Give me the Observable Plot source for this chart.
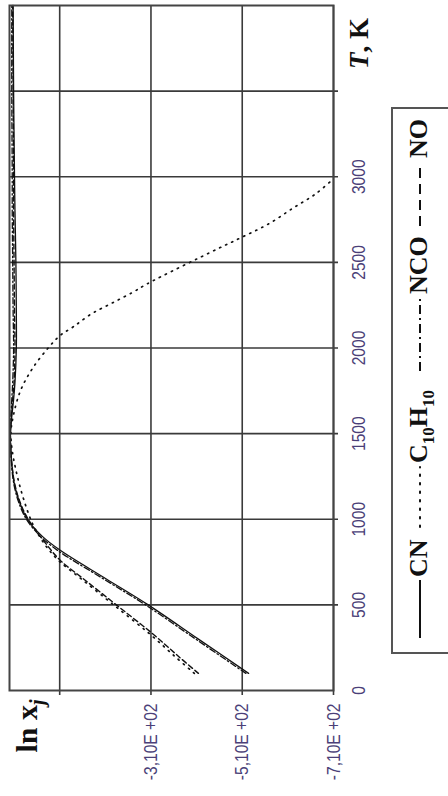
<!DOCTYPE html>
<html><head><meta charset="utf-8">
<script src="https://cdn.jsdelivr.net/npm/d3@7"></script>
<script src="https://cdn.jsdelivr.net/npm/@observablehq/plot@0.6"></script>
<style>
body{margin:0;background:#fff;}
#chart{width:448px;height:796px;overflow:hidden;}
</style></head><body><div id="chart"></div>
<script>
// ---- data (T in K, ln x_j in units of the axis labels) ----
const T_CN = [100,300,500,650,817,900,1000,1100,1200,1300,1400,1500,1600,1700,1800,2000,2200,2500,2800,3000,3500,4000];
const V_CN = [-524,-414,-304,-213,-112,-72,-39,-22,-11,-6,-3,-2,-5,-9,-12,-15,-15,-14,-12,-11,-9,-8];

const T_C10H10 = [100,200,333,500,650,758,850,950,1009,1100,1200,1300,1400,1500,1600,1750,1879,2001,2071,2124,2200,2264,2328,2375,2579,2649,2725,2818,2900,2988];
const V_C10H10 = [-405,-362,-306,-228,-158,-108,-78,-55,-45,-33,-22,-13,-6,-3,-8,-24,-50,-85,-110,-140,-180,-226,-272,-302,-456,-511,-568,-622,-671,-710];

const T_NCO = [100,300,500,650,817,900,1000,1100,1200,1300,1400,1500,1600,1700,1800,2000,2200,2500,2800,3000,3500,4000];
const V_NCO = [-518,-408,-298,-207,-106,-68,-37,-20,-10,-5,-3,-2,-3,-5,-7,-9,-8,-7,-6,-6,-5,-5];

const T_NO = [100,200,333,500,650,758,850,1000,1100,1200,1300,1400,1500,1600,1700,1800,2000,2200,2500,2800,3000,3500,4000];
const V_NO = [-414,-370,-313,-234,-163,-112,-82,-41,-23,-12,-6,-3,-2,-4,-7,-10,-12,-11,-10,-9,-9,-8,-7];

const seriesNames = ["CN", "C10H10", "NCO", "NO"];
const xGridTicks = [-110, -310, -510, -710];
const xTickValues = [-310, -510, -710];
const xTickLabels = ["-3,10E +02", "-5,10E +02", "-7,10E +02"];
const yGridTicks = [500, 1000, 1500, 2000, 2500, 3000, 3500];
const yTickValues = [0, 500, 1000, 1500, 2000, 2500, 3000];

// ---- build table ----
const zip = (name, T, V) => T.map((t, i) => ({series: name, T: t, v: V[i]}));
const dCN = zip("CN", T_CN, V_CN);
const dC10 = zip("C10H10", T_C10H10, V_C10H10);
const dNCO = zip("NCO", T_NCO, V_NCO);
const dNO = zip("NO", T_NO, V_NO);

const styles = {
  CN: {dash: null, width: 1.3},
  C10H10: {dash: "1.2,5.5", width: 1.7},
  NCO: {dash: "6,2.5,1.5,2.5", width: 1.3},
  NO: {dash: "5,3", width: 1.4}
};

const tickFont = "'Liberation Sans','Arial',sans-serif";
const serif = "'Liberation Serif','DejaVu Serif',serif";
const tickColor = "#4b3f78";

const lineMark = (data, name) => Plot.line(data, {
  x: "v", y: "T", stroke: "#111", strokeWidth: styles[name].width,
  strokeDasharray: styles[name].dash, strokeLinecap: "round", curve: "catmull-rom"
});

const plot = Plot.plot({
  width: 448, height: 796,
  marginLeft: 9, marginRight: 115, marginTop: 5, marginBottom: 106,
  x: {domain: [0, -710], axis: null},
  y: {domain: [0, 4000], axis: null},
  style: {background: "transparent", overflow: "visible"},
  marks: [
    Plot.ruleX(xGridTicks, {stroke: "#3a3a3a", strokeWidth: 1.6, insetBottom: -5}),
    Plot.ruleY(yGridTicks, {stroke: "#3a3a3a", strokeWidth: 1.6, insetRight: -5}),
    lineMark(dNO, "NO"),
    lineMark(dNCO, "NCO"),
    lineMark(dC10, "C10H10"),
    lineMark(dCN, "CN"),
    Plot.frame({stroke: "#444", strokeWidth: 2}),
    Plot.text(xTickValues, {
      x: d => d, text: (d, i) => xTickLabels[i], frameAnchor: "bottom", dy: 13,
      rotate: -90, textAnchor: "end", lineAnchor: "middle",
      fontSize: 19, fontFamily: tickFont, fill: tickColor
    }),
    Plot.text(yTickValues, {
      y: d => d, text: d => String(d), frameAnchor: "right", dx: 25,
      rotate: -90, textAnchor: "middle", lineAnchor: "middle",
      fontSize: 19, fontFamily: tickFont, fill: tickColor
    }),
    Plot.text(["T, K"], {
      frameAnchor: "top-right", dx: 26, dy: 38, rotate: -90,
      textAnchor: "middle", lineAnchor: "middle",
      fontSize: 27, fontWeight: "bold", fontFamily: serif, fill: "#111"
    }),
    Plot.text(["ln x"], {
      frameAnchor: "bottom-left", dx: 18, dy: 62, rotate: -90,
      textAnchor: "start", lineAnchor: "middle",
      fontSize: 30, fontWeight: "bold", fontFamily: serif, fill: "#111"
    })
  ]
});

document.getElementById("chart").appendChild(plot);

// narrow tick-label face and rich text for titles
const tickStrings = new Set([...xTickLabels, ...yTickValues.map(String)]);
plot.querySelectorAll("text").forEach(t => {
  const s = t.textContent;
  if (tickStrings.has(s)) {
    const len = t.getComputedTextLength();
    t.setAttribute("textLength", (len * 0.82).toFixed(1));
    t.setAttribute("lengthAdjust", "spacingAndGlyphs");
  }
  if (s === "T, K") t.innerHTML = '<tspan font-style="italic">T</tspan>, K';
  if (s === "ln x") t.innerHTML = 'ln x<tspan dy="7" font-size="20" font-style="italic">j</tspan>';
});

// ---- legend (rotated box on the right) ----
const svg = d3.select(plot);
const g = svg.append("g").attr("transform", "translate(392,653) rotate(-90)");
g.append("rect").attr("x", 0).attr("y", 0).attr("width", 545).attr("height", 80)
  .attr("fill", "none").attr("stroke", "#555").attr("stroke-width", 2);
const legendPos = {
  CN: {l1: 15, l2: 73, tx: 76},
  C10H10: {l1: 126, l2: 186, tx: 190},
  NCO: {l1: 282, l2: 354, tx: 359},
  NO: {l1: 427, l2: 490, tx: 495}
};
const legendDash = {CN: null, C10H10: "1.5,7", NCO: "9,4,2,4", NO: "10,6"};
seriesNames.forEach(name => {
  const p = legendPos[name];
  g.append("line").attr("x1", p.l1).attr("x2", p.l2).attr("y1", 28).attr("y2", 28)
    .attr("stroke", "#111").attr("stroke-width", 2)
    .attr("stroke-dasharray", legendDash[name]).attr("stroke-linecap", name === "C10H10" ? "round" : "butt");
  const t = g.append("text").attr("x", p.tx).attr("y", 35).attr("text-anchor", "start")
    .attr("font-family", serif).attr("font-weight", "bold").attr("font-size", 26).attr("fill", "#111");
  if (name === "C10H10") {
    t.html('C<tspan dy="7" font-size="17">10</tspan><tspan dy="-7">H</tspan><tspan dy="7" font-size="17">10</tspan>');
  } else {
    t.text(name);
  }
});
</script></body></html>
